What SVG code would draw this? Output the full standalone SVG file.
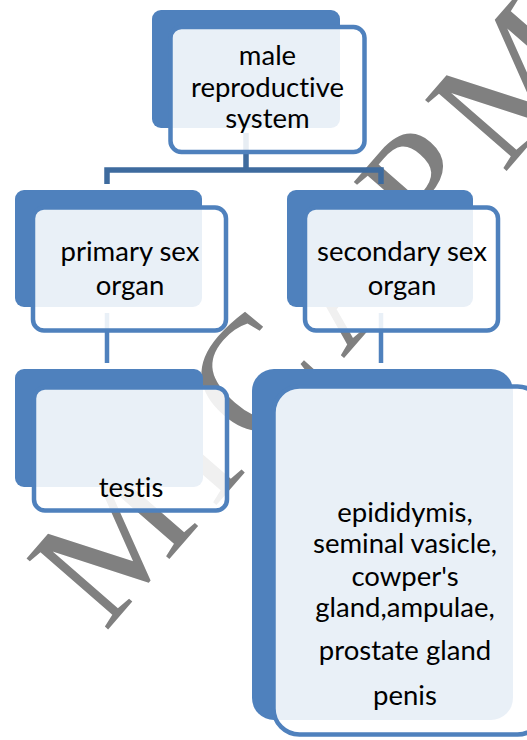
<svg xmlns="http://www.w3.org/2000/svg" width="527" height="740" viewBox="0 0 527 740">
<style>
.back{fill:#4f81bd}
.front{fill:#fff;fill-opacity:.88;stroke:#4f81bd;stroke-width:4.5}
.t{font-family:Lato,"Open Sans","Liberation Sans",sans-serif;font-size:27.5px;fill:#000;text-anchor:middle;font-variant-ligatures:none}
.wm{font-family:"Liberation Serif",serif;font-size:165px;fill:#808080;text-anchor:middle;letter-spacing:17px}
.c1{fill:none;stroke:#3e6b9e;stroke-width:5.5}
.c2{fill:none;stroke:#4f81bd;stroke-width:4.5}
</style>
<rect width="527" height="740" fill="#fff"/>
<text class="wm" transform="translate(358,342) rotate(-49)">MICAPM</text>
<g id="connectors">
<path class="c1" d="M107,184 V170 H381 V184 M246,133 V170"/>
<path class="c2" d="M107,313 V363 M381,313 V363"/>
</g>
<g id="n-male">
<rect class="back" x="152" y="10" width="188" height="118" rx="9"/>
<rect class="front" x="170.5" y="27" width="194" height="125" rx="11"/>
<text class="t" x="267.5" y="65">male</text>
<text class="t" x="267.5" y="97">reproductive</text>
<text class="t" x="267.5" y="128">system</text>
</g>
<g id="n-primary">
<rect class="back" x="15" y="190" width="187" height="117" rx="9"/>
<rect class="front" x="33" y="207.5" width="193" height="123" rx="11"/>
<text class="t" x="130" y="261">primary sex</text>
<text class="t" x="130" y="295">organ</text>
</g>
<g id="n-secondary">
<rect class="back" x="287" y="190" width="186" height="117" rx="9"/>
<rect class="front" x="305" y="207.5" width="193" height="123" rx="11"/>
<text class="t" x="402" y="261">secondary sex</text>
<text class="t" x="402" y="295">organ</text>
</g>
<g id="n-testis">
<rect class="back" x="15" y="369" width="188" height="118" rx="9"/>
<rect class="front" x="34" y="387.5" width="193" height="123" rx="11"/>
<text class="t" x="131" y="497">testis</text>
</g>
<g id="n-accessory">
<rect class="back" x="252" y="369" width="261" height="351" rx="22"/>
<rect class="front" x="273.5" y="386.5" width="270" height="348" rx="26"/>
<text class="t" x="405" y="522">epididymis,</text>
<text class="t" x="405" y="553">seminal vasicle,</text>
<text class="t" x="405" y="586">cowper's</text>
<text class="t" x="405" y="617">gland,ampulae,</text>
<text class="t" x="405" y="660">prostate gland</text>
<text class="t" x="405" y="705">penis</text>
</g>
</svg>
